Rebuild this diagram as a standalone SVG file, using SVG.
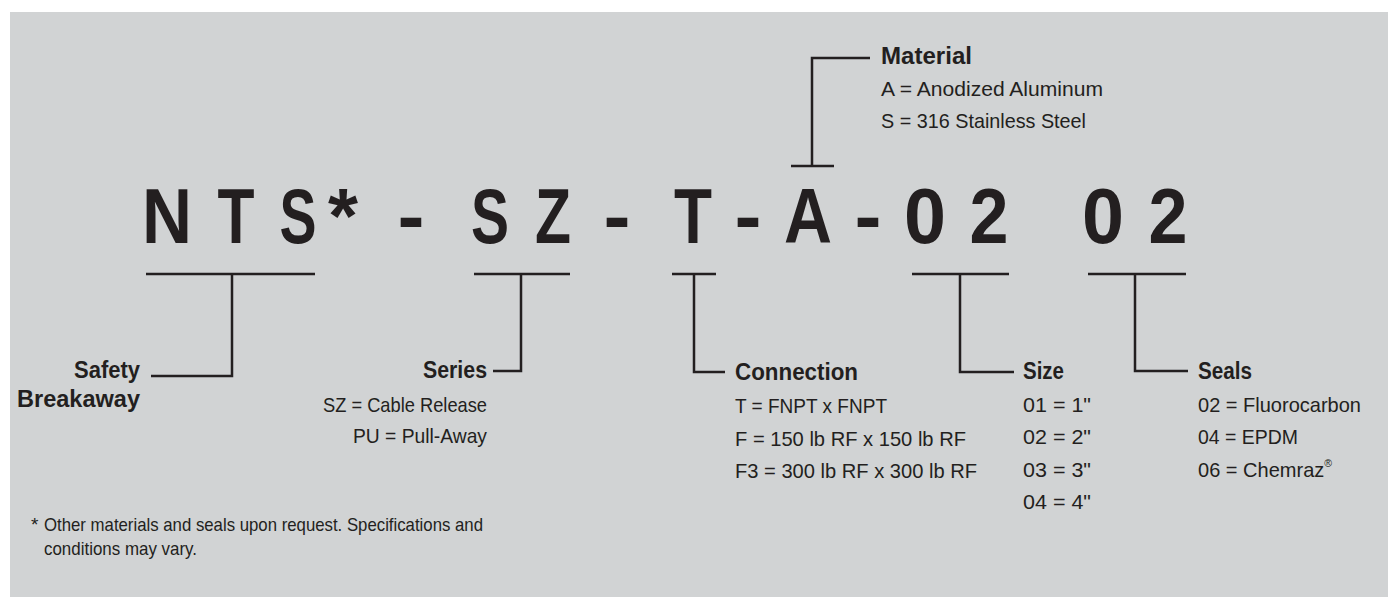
<svg xmlns="http://www.w3.org/2000/svg" width="1388" height="597" viewBox="0 0 1388 597">
<style>
text{fill:#231f20;font-family:"Liberation Sans",Arial,sans-serif}
.big{font-size:77px;font-weight:bold;text-anchor:middle}
.lbl{font-size:23px;font-weight:bold}
.itm{font-size:21px}
.note{font-size:19px}
.end{text-anchor:end}
.ln{fill:none;stroke:#231f20;stroke-width:2.5}
</style>
<rect x="10" y="12" width="1378" height="585" fill="#d1d3d4"/>
<g id="code">
<text class="big" x="167" y="243" textLength="50" lengthAdjust="spacingAndGlyphs">N</text>
<text class="big" x="236" y="243" textLength="37" lengthAdjust="spacingAndGlyphs">T</text>
<text class="big" x="298" y="243" textLength="37" lengthAdjust="spacingAndGlyphs">S</text>
<text class="big" x="343" y="243" textLength="30" lengthAdjust="spacingAndGlyphs">*</text>
<text class="big" x="411" y="243" textLength="27" lengthAdjust="spacingAndGlyphs">-</text>
<text class="big" x="490" y="243" textLength="38" lengthAdjust="spacingAndGlyphs">S</text>
<text class="big" x="553" y="243" textLength="36" lengthAdjust="spacingAndGlyphs">Z</text>
<text class="big" x="617" y="243" textLength="27" lengthAdjust="spacingAndGlyphs">-</text>
<text class="big" x="693" y="243" textLength="38" lengthAdjust="spacingAndGlyphs">T</text>
<text class="big" x="748" y="243" textLength="27" lengthAdjust="spacingAndGlyphs">-</text>
<text class="big" x="808" y="243" textLength="48" lengthAdjust="spacingAndGlyphs">A</text>
<text class="big" x="868" y="243" textLength="27" lengthAdjust="spacingAndGlyphs">-</text>
<text class="big" x="925" y="243" textLength="42" lengthAdjust="spacingAndGlyphs">0</text>
<text class="big" x="989" y="243" textLength="39" lengthAdjust="spacingAndGlyphs">2</text>
<text class="big" x="1103" y="243" textLength="42" lengthAdjust="spacingAndGlyphs">0</text>
<text class="big" x="1168" y="243" textLength="39" lengthAdjust="spacingAndGlyphs">2</text>
</g>
<g id="connectors">
<path class="ln" d="M791 166H834M812 166V58H870"/>
<path class="ln" d="M146 274H315M232 274V376H151"/>
<path class="ln" d="M474 274H570M521 274V371H493"/>
<path class="ln" d="M672 274H716M694 274V372H725"/>
<path class="ln" d="M912 274H1009M960 274V372H1014"/>
<path class="ln" d="M1088 274H1186M1135 274V371H1188"/>
</g>
<g id="material">
<text class="lbl" x="881" y="64" textLength="91" lengthAdjust="spacingAndGlyphs">Material</text>
<text class="itm" x="881" y="96" textLength="222" lengthAdjust="spacingAndGlyphs">A = Anodized Aluminum</text>
<text class="itm" x="881" y="128" textLength="205" lengthAdjust="spacingAndGlyphs">S = 316 Stainless Steel</text>
</g>
<g id="safety">
<text class="lbl end" x="140" y="378" textLength="66" lengthAdjust="spacingAndGlyphs">Safety</text>
<text class="lbl end" x="140" y="407" textLength="123" lengthAdjust="spacingAndGlyphs">Breakaway</text>
</g>
<g id="series">
<text class="lbl end" x="487" y="378" textLength="64" lengthAdjust="spacingAndGlyphs">Series</text>
<text class="itm end" x="487" y="412" textLength="164" lengthAdjust="spacingAndGlyphs">SZ = Cable Release</text>
<text class="itm end" x="487" y="443" textLength="134" lengthAdjust="spacingAndGlyphs">PU = Pull-Away</text>
</g>
<g id="connection">
<text class="lbl" x="735" y="380" textLength="123" lengthAdjust="spacingAndGlyphs">Connection</text>
<text class="itm" x="735" y="413" textLength="152" lengthAdjust="spacingAndGlyphs">T = FNPT x FNPT</text>
<text class="itm" x="735" y="446" textLength="231" lengthAdjust="spacingAndGlyphs">F = 150 lb RF x 150 lb RF</text>
<text class="itm" x="735" y="478" textLength="242" lengthAdjust="spacingAndGlyphs">F3 = 300 lb RF x 300 lb RF</text>
</g>
<g id="size">
<text class="lbl" x="1023" y="379" textLength="41" lengthAdjust="spacingAndGlyphs">Size</text>
<text class="itm" x="1023" y="412" textLength="68" lengthAdjust="spacingAndGlyphs">01 = 1"</text>
<text class="itm" x="1023" y="444" textLength="68" lengthAdjust="spacingAndGlyphs">02 = 2"</text>
<text class="itm" x="1023" y="477" textLength="68" lengthAdjust="spacingAndGlyphs">03 = 3"</text>
<text class="itm" x="1023" y="509" textLength="68" lengthAdjust="spacingAndGlyphs">04 = 4"</text>
</g>
<g id="seals">
<text class="lbl" x="1198" y="379" textLength="54" lengthAdjust="spacingAndGlyphs">Seals</text>
<text class="itm" x="1198" y="412" textLength="163" lengthAdjust="spacingAndGlyphs">02 = Fluorocarbon</text>
<text class="itm" x="1198" y="444" textLength="100" lengthAdjust="spacingAndGlyphs">04 = EPDM</text>
<text class="itm" x="1198" y="477" textLength="134" lengthAdjust="spacingAndGlyphs">06 = Chemraz<tspan style="font-size:11px" dy="-10">®</tspan></text>
</g>
<g id="footnote">
<text class="note" x="31" y="531">*</text>
<text class="note" x="44" y="531" textLength="439" lengthAdjust="spacingAndGlyphs">Other materials and seals upon request. Specifications and</text>
<text class="note" x="44" y="555" textLength="153" lengthAdjust="spacingAndGlyphs">conditions may vary.</text>
</g>
</svg>
